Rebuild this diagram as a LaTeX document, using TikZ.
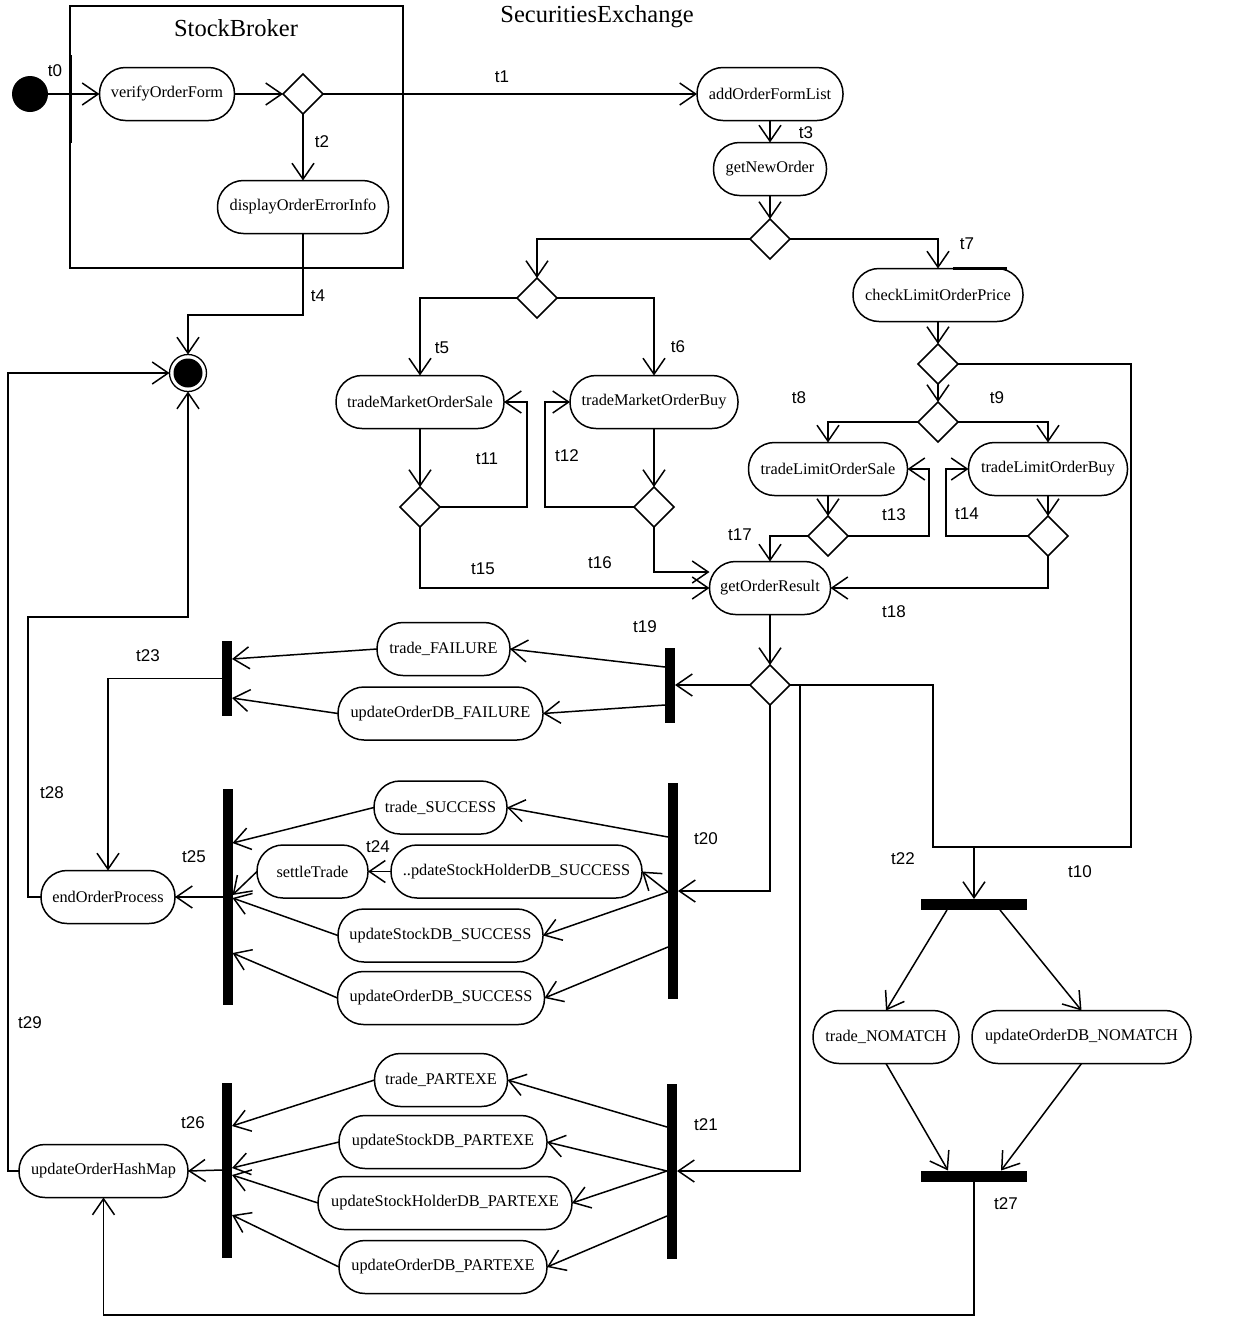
\documentclass[tikz,border=0pt]{standalone}
\usepackage{fontspec}
\setmainfont{Liberation Serif}
\newfontfamily\lblfont{Liberation Sans}
\usetikzlibrary{shapes.geometric,arrows.meta}
\begin{document}
\begin{tikzpicture}[x=1pt,y=-1pt,
  every node/.style={inner sep=0pt, outer sep=0pt},
  line/.style={line width=1.5pt},
  arr/.style={line width=1.5pt,-{Straight Barb[length=16pt,width=22pt,line width=1.5pt]}},
  act/.style={rectangle, rounded corners=26pt, draw, line width=1.5pt, minimum width=#1pt, minimum height=53pt, font=\fontsize{16.3}{18}\selectfont},
  dec/.style={diamond, draw, line width=1.5pt, minimum width=40pt, minimum height=40pt, aspect=1},
  vbar/.style={fill=black, minimum width=10pt, minimum height=#1pt},
  hbar/.style={fill=black, minimum width=106pt, minimum height=11pt},
  lbl/.style={font=\lblfont\fontsize{17}{19}\selectfont},
  ttl/.style={font=\fontsize{24.5}{28}\selectfont}
]
\useasboundingbox (0,0) rectangle (1246,1318);
\fill[white] (0,0) rectangle (1246,1318);

% ---------- StockBroker partition ----------
\node[draw, line width=1.5pt, minimum width=333pt, minimum height=262pt] (sbbox) at (236.5,137) {};
\node[ttl] (sbt) at (236,28) {StockBroker};
\node[ttl] (set) at (597,17) {SecuritiesExchange};

\node[circle, fill=black, minimum size=36pt] (init) at (30,94) {};
\node[fill=black, minimum width=3pt, minimum height=88pt] (t0bar) at (70,99) {};
\node[act=135] (vof) at (167,94) {verifyOrderForm};
\node[dec] (d1) at (303,94) {};
\node[act=171] (doei) at (303,207) {displayOrderErrorInfo};

% final node
\node[circle, draw, line width=1.3pt, minimum size=37pt] (fin) at (188,373) {};
\node[circle, fill=black, minimum size=29pt] (fin2) at (188,373) {};

% ---------- Exchange ----------
\node[act=146] (aofl) at (770,94) {addOrderFormList};
\node[act=113] (gno) at (770,169) {getNewOrder};
\node[dec] (d2) at (770,239) {};
\node[dec] (d3) at (537,298) {};
\node[act=170] (clop) at (938,295) {checkLimitOrderPrice};
\node[fill=black, minimum width=54pt, minimum height=3pt] (clopmark) at (980,268.5) {};
\node[dec] (d4) at (938,364) {};
\node[dec] (d7) at (938,422) {};

\node[act=168] (tmos) at (420,402) {tradeMarketOrderSale};
\node[act=168] (tmob) at (654,402) {tradeMarketOrderBuy};
\node[dec] (d5) at (420,507) {};
\node[dec] (d6) at (654,507) {};

\node[act=159] (tlos) at (828,469) {tradeLimitOrderSale};
\node[act=159] (tlob) at (1048,469) {tradeLimitOrderBuy};
\node[dec] (d8) at (828,536) {};
\node[dec] (d9) at (1048,536) {};

\node[act=121] (gor) at (770,588) {getOrderResult};
\node[dec] (d10) at (770,685) {};

% failure
\node[act=133] (tf) at (443.5,649) {trade\_FAILURE};
\node[act=205] (uof) at (440.5,713.5) {updateOrderDB\_FAILURE};
\node[vbar=75] (b19) at (670,685) {};
\node[vbar=75] (b23) at (227,678.5) {};
\node[act=134] (eop) at (108,897) {endOrderProcess};

% success
\node[act=133] (ts) at (440.5,807.5) {trade\_SUCCESS};
\node[act=251] (ushs) at (516.5,871.5) {..pdateStockHolderDB\_SUCCESS};
\node[act=205] (usds) at (440.5,935.5) {updateStockDB\_SUCCESS};
\node[act=207] (uods) at (441,998) {updateOrderDB\_SUCCESS};
\node[act=111] (st) at (312.5,871.5) {settleTrade};
\node[vbar=216] (b20) at (673,891) {};
\node[vbar=216] (b25) at (227.5,897) {};

% partexe
\node[act=133] (tp) at (441,1080) {trade\_PARTEXE};
\node[act=208] (usdp) at (443,1142) {updateStockDB\_PARTEXE};
\node[act=254] (ushp) at (445,1203) {updateStockHolderDB\_PARTEXE};
\node[act=208] (uodp) at (443,1267) {updateOrderDB\_PARTEXE};
\node[vbar=175] (b26) at (227,1170) {};
\node[vbar=175] (b21) at (672,1171) {};
\node[act=169] (uohm) at (103.5,1171) {updateOrderHashMap};

% nomatch
\node[hbar] (b22) at (974,904.5) {};
\node[act=146] (tn) at (886,1037) {trade\_NOMATCH};
\node[act=219] (uodn) at (1081.5,1037) {updateOrderDB\_NOMATCH};
\node[hbar] (b27) at (974,1176) {};

\coordinate (j22) at (974,847);
\coordinate (j21) at (800,685);

% ---------- connectors ----------
\draw[arr] (init) -- (vof);
\draw[arr] (vof) -- (d1);
\draw[arr] (d1.east) -- (aofl.west);
\draw[arr] (d1.south) -- (doei.north);
\draw[arr] (doei.south) -- (303,315) -| (fin.north);
\draw[arr] (aofl) -- (gno);
\draw[arr] (gno) -- (d2);
\draw[arr] (d2.west) -| (d3.north);
\draw[arr] (d2.east) -| (clop.north);
\draw[arr] (d3.west) -| (tmos.north);
\draw[arr] (d3.east) -| (tmob.north);
\draw[arr] (tmos) -- (d5);
\draw[arr] (tmob) -- (d6);
\draw[arr] (d5.east) -- (527,507) |- (tmos.east);
\draw[arr] (d6.west) -- (545,507) |- (tmob.west);
\draw[arr] (d5.south) |- (gor.west);
\draw[arr] (d6.south) |- ([yshift=16pt]gor.west);
\draw[arr] (clop) -- (d4);
\draw[arr] (d4) -- (d7);
\draw[arr] (d7.west) -| (tlos.north);
\draw[arr] (d7.east) -| (tlob.north);
\draw[arr] (tlos) -- (d8);
\draw[arr] (tlob) -- (d9);
\draw[arr] (d8.east) -- (929,536) |- (tlos.east);
\draw[arr] (d9.west) -- (946,536) |- (tlob.west);
\draw[arr] (d8.west) -| (gor.north);
\draw[arr] (d9.south) |- (gor.east);
\draw[arr] (gor) -- (d10);
\draw[arr] (d10.west) -- (b19.east);
\draw[arr] (d10.south) |- (b20.east);
\draw[line] (d10.east) -- (933,685) -- (933,847) -- (1131,847) -- (1131,364) -- (d4.east);
\draw[arr] (j22) -- (b22.north);
\draw[arr] (j21) |- (b21.east);

% failure
\draw[arr] (b19.west |- 0,667) -- (tf.east);
\draw[arr] (b19.west |- 0,705) -- (uof.east);
\draw[arr] (tf.west) -- (b23.east |- 0,659);
\draw[arr] (uof.west) -- (b23.east |- 0,698);
\draw[arr] (b23.west) -| (eop.north);

% success
\draw[arr] (b20.west |- 0,837) -- (ts.east);
\draw[arr] (b20.west |- 0,892) -- (ushs.east);
\draw[arr] (b20.west |- 0,892) -- (usds.east);
\draw[arr] (b20.west |- 0,947) -- (uods.east);
\draw[arr] (ushs.west) -- (st.east);
\draw[arr] (ts.west) -- (b25.east |- 0,843);
\draw[arr] (st.west) -- (b25.east |- 0,895);
\draw[arr] (usds.west) -- (b25.east |- 0,898);
\draw[arr] (uods.west) -- (b25.east |- 0,953);
\draw[arr] (b25.west) -- (eop.east);

% partexe
\draw[arr] (b21.west |- 0,1127) -- (tp.east);
\draw[arr] (b21.west |- 0,1171) -- (usdp.east);
\draw[arr] (b21.west |- 0,1171) -- (ushp.east);
\draw[arr] (b21.west |- 0,1216) -- (uodp.east);
\draw[arr] (tp.west) -- (b26.east |- 0,1126);
\draw[arr] (usdp.west) -- (b26.east |- 0,1168);
\draw[arr] (ushp.west) -- (b26.east |- 0,1175);
\draw[arr] (uodp.west) -- (b26.east |- 0,1215);
\draw[arr] (b26.west) -- (uohm.east);

% nomatch
\draw[arr] (b22.south -| 947,0) -- (tn.north);
\draw[arr] (b22.south -| 1000,0) -- (uodn.north);
\draw[arr] (tn.south) -- (b27.north -| 948,0);
\draw[arr] (uodn.south) -- (b27.north -| 1001,0);
\draw[arr] (b27.south) -- (974,1315) -| (uohm.south);

% back to final
\draw[arr] (uohm.west) -- (8,1171) |- (fin.west);
\draw[arr] (eop.west) -- (28,897) |- (188,617) -- (fin.south);

% ---------- labels ----------
\node[lbl] (l0) at (55,71) {t0};
\node[lbl] (l1) at (502,77) {t1};
\node[lbl] (l2) at (322,142) {t2};
\node[lbl] (l3) at (806,133) {t3};
\node[lbl] (l4) at (318,296) {t4};
\node[lbl] (l5) at (442,348) {t5};
\node[lbl] (l6) at (678,347) {t6};
\node[lbl] (l7) at (967,244) {t7};
\node[lbl] (l8) at (799,398) {t8};
\node[lbl] (l9) at (997,398) {t9};
\node[lbl] (l10) at (1080,872) {t10};
\node[lbl] (l11) at (487,459) {t11};
\node[lbl] (l12) at (567,456) {t12};
\node[lbl] (l13) at (894,515) {t13};
\node[lbl] (l14) at (967,514) {t14};
\node[lbl] (l15) at (483,569) {t15};
\node[lbl] (l16) at (600,563) {t16};
\node[lbl] (l17) at (740,535) {t17};
\node[lbl] (l18) at (894,612) {t18};
\node[lbl] (l19) at (645,627) {t19};
\node[lbl] (l20) at (706,839) {t20};
\node[lbl] (l21) at (706,1125) {t21};
\node[lbl] (l22) at (903,859) {t22};
\node[lbl] (l23) at (148,656) {t23};
\node[lbl] (l24) at (378,847) {t24};
\node[lbl] (l25) at (194,857) {t25};
\node[lbl] (l26) at (193,1123) {t26};
\node[lbl] (l27) at (1006,1204) {t27};
\node[lbl] (l28) at (52,793) {t28};
\node[lbl] (l29) at (30,1023) {t29};
\end{tikzpicture}
\end{document}
